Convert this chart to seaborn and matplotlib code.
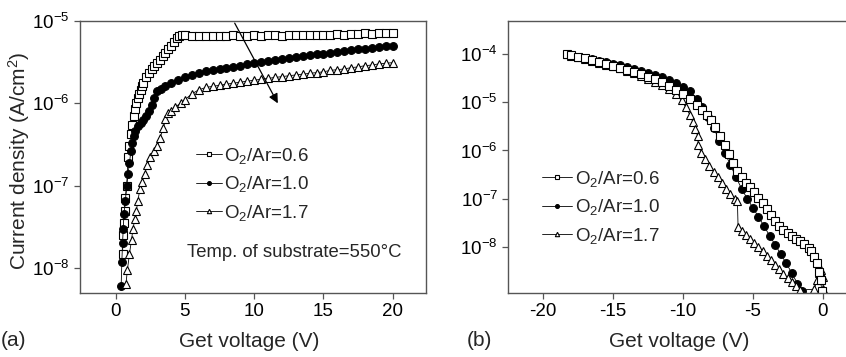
import matplotlib
matplotlib.use('Agg')
import pandas as pd
import matplotlib.pyplot as plt
import seaborn as sns
from matplotlib.ticker import LogLocator, NullLocator

# ---- panel (a): positive gate voltage ----
v_a_06 = [0.5, 0.55, 0.6, 0.65, 0.7, 0.8, 0.9, 1.0, 1.1, 1.2, 1.3, 1.4, 1.5, 1.6, 1.7, 1.8, 1.9, 2.0,
          2.2, 2.4, 2.6, 2.8, 3.0, 3.2, 3.4, 3.6, 3.8, 4.0, 4.2, 4.4, 4.6, 4.8, 5.0,
          5.5, 6.0, 6.5, 7.0, 7.5, 8.0, 8.5, 9.0, 9.5, 10.0, 10.5, 11.0, 11.5, 12.0, 12.5,
          13.0, 13.5, 14.0, 14.5, 15.0, 15.5, 16.0, 16.5, 17.0, 17.5, 18.0, 18.5, 19.0, 19.5, 20.0]
j_a_06 = [1.5e-8, 2.5e-8, 3.5e-8, 5e-8, 7e-8, 1.0e-7, 2.2e-7, 3.0e-7, 4.2e-7, 5.5e-7, 7.0e-7, 8.5e-7,
          1.0e-6, 1.15e-6, 1.3e-6, 1.45e-6, 1.6e-6, 1.75e-6,
          2.05e-6, 2.35e-6, 2.6e-6, 2.85e-6, 3.1e-6, 3.35e-6, 3.7e-6, 4.1e-6, 4.5e-6, 5.0e-6, 5.5e-6,
          6.1e-6, 6.5e-6, 6.7e-6, 6.7e-6,
          6.6e-6, 6.5e-6, 6.6e-6, 6.6e-6, 6.5e-6, 6.6e-6, 6.7e-6, 6.6e-6, 6.6e-6, 6.7e-6, 6.6e-6,
          6.7e-6, 6.7e-6, 6.6e-6, 6.7e-6, 6.7e-6, 6.8e-6, 6.7e-6, 6.8e-6, 6.8e-6, 6.8e-6, 6.9e-6,
          6.8e-6, 6.9e-6, 6.9e-6, 7.0e-6, 6.9e-6, 7.0e-6, 7.0e-6, 7.0e-6]

v_a_10 = [0.4, 0.45, 0.5, 0.55, 0.6, 0.7, 0.8, 0.9, 1.0, 1.1, 1.2, 1.3, 1.4, 1.6, 1.8, 2.0, 2.2, 2.4,
          2.6, 2.8, 3.0, 3.3, 3.6, 4.0, 4.5, 5.0, 5.5, 6.0,
          6.5, 7.0, 7.5, 8.0, 8.5, 9.0, 9.5, 10.0, 10.5, 11.0, 11.5, 12.0, 12.5, 13.0,
          13.5, 14.0, 14.5, 15.0, 15.5, 16.0, 16.5, 17.0, 17.5, 18.0, 18.5, 19.0, 19.5, 20.0]
j_a_10 = [6e-9, 1.2e-8, 2e-8, 3e-8, 4.5e-8, 6.5e-8, 1e-7, 1.4e-7, 1.9e-7, 2.6e-7, 3.3e-7, 4e-7, 4.6e-7,
          5.3e-7, 5.8e-7, 6.3e-7, 7e-7, 8e-7, 9.5e-7, 1.15e-6, 1.4e-6, 1.5e-6, 1.6e-6, 1.75e-6,
          1.9e-6, 2.05e-6, 2.2e-6, 2.35e-6,
          2.45e-6, 2.5e-6, 2.6e-6, 2.65e-6, 2.75e-6, 2.85e-6, 2.95e-6, 3.05e-6, 3.15e-6, 3.25e-6,
          3.3e-6, 3.4e-6, 3.5e-6, 3.6e-6, 3.7e-6, 3.8e-6, 3.9e-6, 4.0e-6, 4.1e-6, 4.2e-6, 4.3e-6,
          4.4e-6, 4.5e-6, 4.6e-6, 4.7e-6, 4.8e-6, 4.9e-6, 5.0e-6]

v_a_17 = [0.75, 0.85, 1.0, 1.15, 1.25, 1.4, 1.5, 1.6, 1.75, 1.9, 2.1, 2.3, 2.5, 2.75, 3.0, 3.2, 3.45,
          3.6, 3.8, 4.0, 4.3, 4.7, 5.0, 5.5, 6.0,
          6.5, 7.0, 7.5, 8.0, 8.5, 9.0, 9.5, 10.0, 10.5, 11.0, 11.5, 12.0, 12.5, 13.0,
          13.5, 14.0, 14.5, 15.0, 15.5, 16.0, 16.5, 17.0, 17.5, 18.0, 18.5, 19.0, 19.5, 20.0]
j_a_17 = [6.5e-9, 9.5e-9, 1.5e-8, 2.2e-8, 3e-8, 4e-8, 5e-8, 6.5e-8, 9e-8, 1.1e-7, 1.4e-7, 1.8e-7,
          2.2e-7, 2.6e-7, 3e-7, 3.8e-7, 5e-7, 6.5e-7, 7.5e-7, 8e-7, 9e-7, 1e-6, 1.1e-6, 1.3e-6, 1.45e-6,
          1.55e-6, 1.6e-6, 1.65e-6, 1.7e-6, 1.75e-6, 1.8e-6, 1.85e-6, 1.9e-6, 1.95e-6, 2.0e-6,
          2.05e-6, 2.1e-6, 2.15e-6, 2.2e-6, 2.25e-6, 2.3e-6, 2.35e-6, 2.4e-6, 2.5e-6, 2.55e-6,
          2.6e-6, 2.7e-6, 2.75e-6, 2.85e-6, 2.9e-6, 3.0e-6, 3.05e-6, 3.1e-6]

# ---- panel (b): negative gate voltage ----
v_b_06 = [-18.3, -18, -17.5, -17, -16.5, -16, -15.5, -15, -14.5, -14, -13.5, -13, -12.5, -12, -11.5,
          -11, -10.5, -10, -9.5, -9, -8.6, -8.3, -8, -7.7, -7.35, -7, -6.7, -6.4, -6.1, -5.8,
          -5.5, -5.2, -4.9, -4.6, -4.3, -4, -3.7, -3.4, -3.1, -2.8, -2.5, -2.2, -1.9, -1.6, -1.3,
          -1.0, -0.8, -0.6, -0.4, -0.25, -0.15, -0.05]
j_b_06 = [1.0e-4, 9.5e-5, 8.8e-5, 8.2e-5, 7.5e-5, 6.9e-5, 6.3e-5, 5.8e-5, 5.3e-5, 4.8e-5, 4.3e-5,
          3.9e-5, 3.4e-5, 3.0e-5, 2.6e-5, 2.2e-5, 1.85e-5, 1.5e-5, 1.2e-5, 9e-6, 7e-6, 5.5e-6,
          4.2e-6, 3.1e-6, 2e-6, 1.3e-6, 8.5e-7, 5.5e-7, 3.8e-7, 2.8e-7, 2.1e-7, 1.7e-7, 1.35e-7,
          1.05e-7, 8e-8, 6e-8, 4.5e-8, 3.4e-8, 2.7e-8, 2.2e-8, 1.9e-8, 1.65e-8, 1.45e-8, 1.3e-8,
          1.15e-8, 9.5e-9, 8e-9, 6e-9, 4.5e-9, 3e-9, 2e-9, 1.2e-9]

v_b_10 = [-18.3, -18, -17.5, -17, -16.5, -16, -15.5, -15, -14.5, -14, -13.5, -13, -12.5, -12, -11.5,
          -11, -10.5, -10, -9.5, -9, -8.6, -8.2, -7.8, -7.4, -7, -6.6, -6.2, -5.8, -5.4, -5,
          -4.6, -4.2, -3.8, -3.4, -3, -2.6, -2.2, -1.8, -1.5]
j_b_10 = [1.0e-4, 9.6e-5, 9e-5, 8.4e-5, 7.8e-5, 7.3e-5, 6.8e-5, 6.3e-5, 5.9e-5, 5.4e-5, 5e-5, 4.6e-5,
          4.1e-5, 3.7e-5, 3.3e-5, 2.9e-5, 2.5e-5, 2.1e-5, 1.7e-5, 1.2e-5, 8e-6, 5e-6, 3e-6, 1.6e-6,
          9e-7, 5e-7, 2.8e-7, 1.6e-7, 1e-7, 6.5e-8, 4.2e-8, 2.7e-8, 1.7e-8, 1.1e-8, 7e-9, 4.5e-9,
          2.8e-9, 1.7e-9, 1.2e-9]

v_b_17 = [-18.3, -18, -17.5, -17, -16.5, -16, -15.5, -15, -14.5, -14, -13.5, -13, -12.5, -12, -11.5,
          -11, -10.5, -10.1, -9.8, -9.5, -9.3, -9.1, -8.95, -8.9, -8.7, -8.4, -8.1, -7.8, -7.5, -7.2,
          -6.9, -6.6, -6.3, -6.1, -6.05, -5.8, -5.5, -5.2, -4.9, -4.6, -4.3, -4, -3.7, -3.4, -3.1,
          -2.8, -2.5, -2.2, -1.9, -1.6, -0.6, -0.4, -0.25, -0.1, 0, 0.05]
j_b_17 = [1.0e-4, 9.4e-5, 8.7e-5, 8e-5, 7.3e-5, 6.7e-5, 6.1e-5, 5.6e-5, 5.1e-5, 4.6e-5, 4.1e-5,
          3.6e-5, 3.1e-5, 2.7e-5, 2.3e-5, 1.9e-5, 1.5e-5, 1.1e-5, 8e-6, 5.5e-6, 4e-6, 2.8e-6, 2e-6,
          1.3e-6, 9e-7, 6.5e-7, 4.8e-7, 3.6e-7, 2.8e-7, 2.1e-7, 1.6e-7, 1.25e-7, 1e-7, 9e-8, 2.5e-8,
          2.1e-8, 1.75e-8, 1.45e-8, 1.2e-8, 1e-8, 8e-9, 6.5e-9, 5.2e-9, 4.2e-9, 3.4e-9, 2.7e-9,
          2.2e-9, 1.8e-9, 1.5e-9, 1.25e-9, 1.3e-9, 2e-9, 2.8e-9, 3.3e-9, 2.3e-9, 1.3e-9]

labels = ['O$_2$/Ar=0.6', 'O$_2$/Ar=1.0', 'O$_2$/Ar=1.7']

sns.set_theme(style='ticks')
plt.rcParams['font.family'] = ['Liberation Sans', 'DejaVu Sans']
plt.rcParams['mathtext.default'] = 'regular'
plt.rcParams['axes.unicode_minus'] = False

SPINE = '#555555'


def draw_series(ax, v, j, marker, face, size, label):
    df = pd.DataFrame({'V': v, 'J': j})
    sns.lineplot(data=df, x='V', y='J', ax=ax, estimator=None, sort=False, color='black',
                 linewidth=0.6, marker=marker, markersize=size, markerfacecolor=face,
                 markeredgecolor='black', markeredgewidth=0.8, label=label, legend=False)


def style_axes(ax, xticks):
    ax.set_yscale('log')
    ax.yaxis.set_major_locator(LogLocator(base=10, numticks=12))
    ax.yaxis.set_minor_locator(NullLocator())
    ax.set_xticks(xticks)
    ax.tick_params(direction='out', length=4, width=0.9, color=SPINE, labelsize=13.5,
                   labelcolor='black')
    for s in ax.spines.values():
        s.set_color(SPINE)
        s.set_linewidth(1.0)
    ax.set_xlabel('Get voltage (V)', fontsize=15)
    ax.set_ylabel('')


fig = plt.figure(figsize=(8.46, 3.57), dpi=100)
ax_a = fig.add_axes([80 / 846, 64 / 357, 346 / 846, 272.3 / 357])
ax_b = fig.add_axes([508.3 / 846, 64.3 / 357, 340 / 846, 272 / 357])

# panel (a)
draw_series(ax_a, v_a_06, j_a_06, 's', 'white', 5.2, labels[0])
draw_series(ax_a, v_a_10, j_a_10, 'o', 'black', 5.6, labels[1])
draw_series(ax_a, v_a_17, j_a_17, '^', 'white', 6.3, labels[2])
style_axes(ax_a, [0, 5, 10, 15, 20])
ax_a.set_xlim(-2.57, 22.4)
ax_a.set_ylim(5.0e-9, 1e-5)
ax_a.set_ylabel('Current density (A/cm$^2$)', fontsize=15)
ax_a.yaxis.set_label_coords(-0.139, 0.485)
ax_a.xaxis.set_label_coords(0.49, -0.143)
ax_a.legend(loc='upper left', bbox_to_anchor=(0.336, 0.54), frameon=False, fontsize=13.5,
            handlelength=1.35, handletextpad=0.12, labelspacing=0.45, borderpad=0,
            borderaxespad=0, markerscale=0.5)
ax_a.text(0.309, 0.15, 'Temp. of substrate=550°C', transform=ax_a.transAxes, fontsize=13.3,
          va='center', ha='left')
ax_a.annotate('', xy=(11.8, 9.3e-7), xytext=(8.5, 1.0e-5),
              arrowprops=dict(arrowstyle='-|>', color='black', lw=0.9, mutation_scale=14))

# panel (b)
draw_series(ax_b, v_b_10, j_b_10, 'o', 'black', 5.6, labels[1])
draw_series(ax_b, v_b_17, j_b_17, '^', 'white', 6.3, labels[2])
draw_series(ax_b, v_b_06, j_b_06, 's', 'white', 5.2, labels[0])
style_axes(ax_b, [-20, -15, -10, -5, 0])
ax_b.set_xlim(-22.5, 1.84)
ax_b.set_ylim(1.1e-9, 5.0e-4)
ax_b.xaxis.set_label_coords(0.5025, -0.143)
h, l = ax_b.get_legend_handles_labels()
order = [l.index(x) for x in labels]
ax_b.legend([h[i] for i in order], [l[i] for i in order], loc='upper left',
            bbox_to_anchor=(0.1, 0.455), frameon=False, fontsize=13.5, handlelength=1.6,
            handletextpad=0.12, labelspacing=0.45, borderpad=0, borderaxespad=0, markerscale=0.5)

fig.text(1 / 846, 16 / 357, '(a)', fontsize=15, va='center', ha='left')
fig.text(467 / 846, 16 / 357, '(b)', fontsize=15, va='center', ha='left')

fig.savefig('out.png', dpi=100)
